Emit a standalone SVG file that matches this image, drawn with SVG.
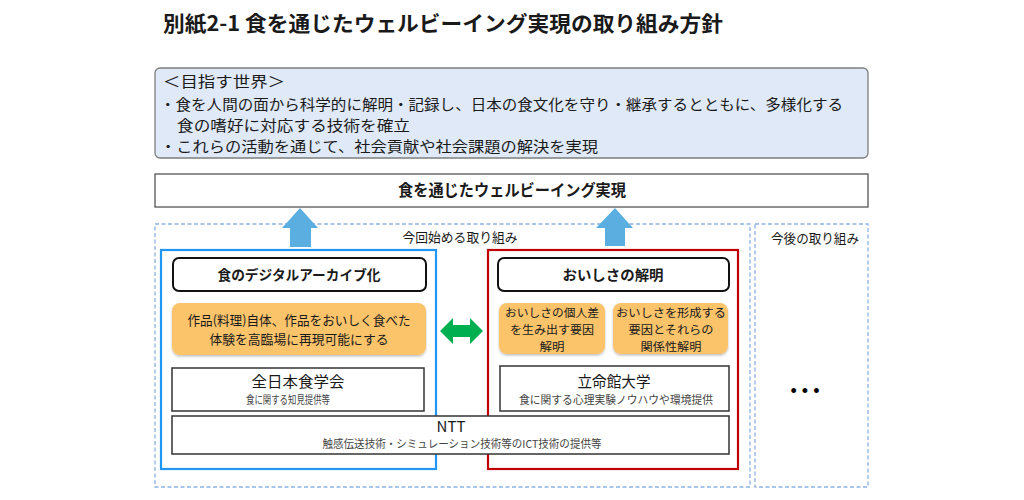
<svg xmlns="http://www.w3.org/2000/svg" width="1024" height="500" viewBox="0 0 1024 500">
<defs>
<style>
text{font-family:"Noto Sans CJK JP","Noto Sans",sans-serif;fill:#1a1a1a}
.title{font-size:21px;font-weight:bold}
.vision{font-size:14.5px}
.bold{font-weight:bold}
.plain{fill:#fff;stroke:#333;stroke-width:1.5}
.head{fill:#fff;stroke:#111;stroke-width:2}
.orange{fill:#fbc36b}
.dash{fill:none;stroke:#8db3e2;stroke-width:1.3;stroke-dasharray:4 2.5}
.up{fill:#5aaee0}
.org{font-size:15px}
.sub{font-size:11px;fill:#444}
.ot{font-size:13px}
.os{font-size:11.5px}
.lbl{font-size:13px}
</style>
<filter id="sh" x="-5%" y="-5%" width="110%" height="120%">
<feDropShadow dx="0" dy="1.5" stdDeviation="1.2" flood-color="#000" flood-opacity="0.25"/>
</filter>
</defs>
<rect width="1024" height="500" fill="#fff"/>
<g id="title">
<text class="title" x="163" y="31" textLength="560" lengthAdjust="spacingAndGlyphs">別紙2-1 食を通じたウェルビーイング実現の取り組み方針</text>
</g>
<g id="vision">
<rect x="155" y="68" width="713" height="90" rx="5" fill="#dfe9f7" stroke="#7f7f7f" stroke-width="1.3"/>
<text class="vision" x="163" y="87" textLength="122" lengthAdjust="spacingAndGlyphs">＜目指す世界＞</text>
<text class="vision" x="160" y="109.5" textLength="683" lengthAdjust="spacingAndGlyphs">・食を人間の面から科学的に解明・記録し、日本の食文化を守り・継承するとともに、多様化する</text>
<text class="vision" x="177" y="130.5" textLength="233" lengthAdjust="spacingAndGlyphs">食の嗜好に対応する技術を確立</text>
<text class="vision" x="160" y="151.5" textLength="438" lengthAdjust="spacingAndGlyphs">・これらの活動を通じて、社会貢献や社会課題の解決を実現</text>
</g>
<g id="goal">
<rect x="155" y="174" width="713" height="33" fill="#fff" stroke="#555" stroke-width="1.3"/>
<text class="bold" x="512" y="196" font-size="16" text-anchor="middle" textLength="228" lengthAdjust="spacingAndGlyphs">食を通じたウェルビーイング実現</text>
</g>
<g id="current-area">
<rect class="dash" x="155" y="224" width="595" height="263"/>
<text class="lbl" x="460" y="242" text-anchor="middle" textLength="115" lengthAdjust="spacingAndGlyphs">今回始める取り組み</text>
</g>
<g id="future-area">
<rect class="dash" x="755" y="224" width="113" height="263"/>
<text class="lbl" x="815" y="243" text-anchor="middle" textLength="88" lengthAdjust="spacingAndGlyphs">今後の取り組み</text>
<text x="805" y="397" font-size="18" text-anchor="middle" style="font-family:'Liberation Sans',sans-serif;fill:#000">• • •</text>
</g>
<g id="connectors">
<polygon class="up" points="300,208 318,228 311,228 311,247 290,247 290,228 282,228"/>
<polygon class="up" points="615,208 633,228 625,228 625,246 605,246 605,228 596,228"/>
<polygon fill="#00b050" points="440,331 453,318 453,325 470,325 470,318 483,331 470,344 470,337 453,337 453,344"/>
</g>
<g id="digital-archive">
<rect x="161" y="250" width="275" height="219" fill="none" stroke="#2196f3" stroke-width="2.2"/>
<rect class="head" x="173" y="258" width="253" height="33" rx="6"/>
<text class="bold" x="299" y="280" font-size="14" text-anchor="middle" textLength="163" lengthAdjust="spacingAndGlyphs">食のデジタルアーカイブ化</text>
<rect class="orange" x="172" y="303" width="254" height="52" rx="8" filter="url(#sh)"/>
<text class="ot" x="299" y="325" text-anchor="middle" textLength="223" lengthAdjust="spacingAndGlyphs">作品(料理)自体、作品をおいしく食べた</text>
<text class="ot" x="299" y="344" text-anchor="middle" textLength="179" lengthAdjust="spacingAndGlyphs">体験を高臨場に再現可能にする</text>
</g>
<g id="oishisa">
<rect x="488" y="250" width="250" height="219" fill="none" stroke="#c00000" stroke-width="2.2"/>
<rect class="head" x="498" y="258" width="231" height="33" rx="6"/>
<text class="bold" x="613" y="280" font-size="14" text-anchor="middle" textLength="101" lengthAdjust="spacingAndGlyphs">おいしさの解明</text>
<rect class="orange" x="499" y="303" width="106" height="51" rx="8" filter="url(#sh)"/>
<text class="os" x="552" y="316.5" text-anchor="middle" textLength="94" lengthAdjust="spacingAndGlyphs">おいしさの個人差</text>
<text class="os" x="552" y="333.5" text-anchor="middle" textLength="84" lengthAdjust="spacingAndGlyphs">を生み出す要因</text>
<text class="os" x="552" y="350.5" text-anchor="middle" textLength="25" lengthAdjust="spacingAndGlyphs">解明</text>
<rect class="orange" x="613" y="303" width="115" height="51" rx="8" filter="url(#sh)"/>
<text class="os" x="671" y="316.5" text-anchor="middle" textLength="110" lengthAdjust="spacingAndGlyphs">おいしさを形成する</text>
<text class="os" x="671" y="333.5" text-anchor="middle" textLength="85" lengthAdjust="spacingAndGlyphs">要因とそれらの</text>
<text class="os" x="671" y="350.5" text-anchor="middle" textLength="61" lengthAdjust="spacingAndGlyphs">関係性解明</text>
</g>
<g id="zennihon">
<rect class="plain" x="172" y="368" width="252" height="43"/>
<text class="org" x="298" y="387" text-anchor="middle" textLength="93" lengthAdjust="spacingAndGlyphs">全日本食学会</text>
<text class="sub" x="288" y="404" text-anchor="middle" textLength="84" lengthAdjust="spacingAndGlyphs">食に関する知見提供等</text>
</g>
<g id="ritsumeikan">
<rect class="plain" x="500" y="366" width="229" height="45"/>
<text class="org" x="614" y="387" text-anchor="middle" textLength="73" lengthAdjust="spacingAndGlyphs">立命館大学</text>
<text class="sub" x="616" y="404" text-anchor="middle" textLength="194" lengthAdjust="spacingAndGlyphs">食に関する心理実験ノウハウや環境提供</text>
</g>
<g id="ntt">
<rect class="plain" x="172" y="416" width="557" height="38"/>
<text class="org" x="451" y="432" text-anchor="middle">NTT</text>
<text class="sub" x="462" y="448" text-anchor="middle" textLength="279" lengthAdjust="spacingAndGlyphs">触感伝送技術・シミュレーション技術等のICT技術の提供等</text>
</g>
</svg>
